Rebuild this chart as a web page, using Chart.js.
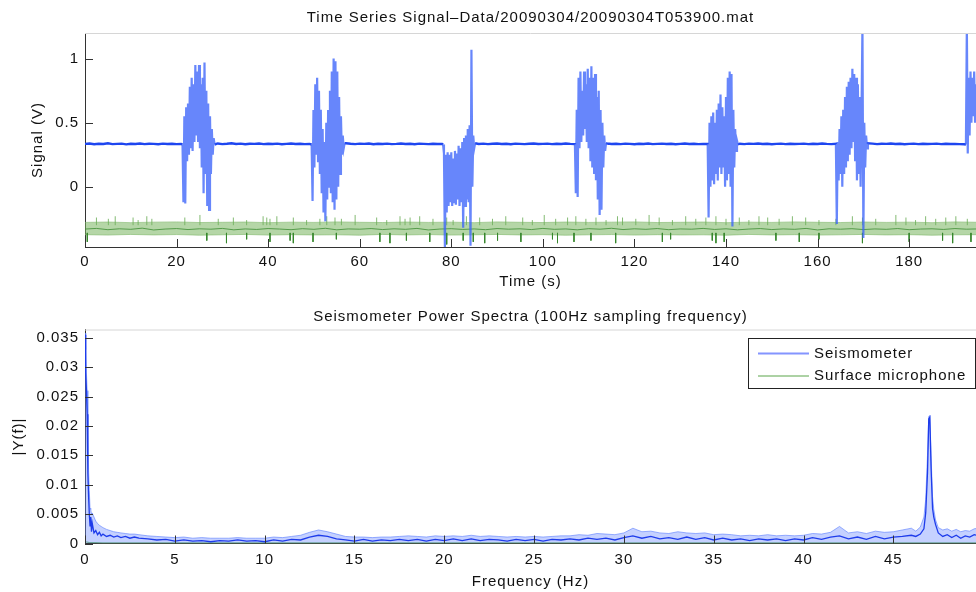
<!DOCTYPE html>
<html>
<head>
<meta charset="utf-8">
<script src="https://cdn.jsdelivr.net/npm/chart.js@4.4.1/dist/chart.umd.min.js"></script>
<style>
  body { margin: 0; background: #fff; }
  #wrap { position: relative; width: 976px; height: 592px; overflow: hidden; }
  canvas { position: absolute; left: 0; }
  #timeChart { top: 0; }
  #specChart { top: 295px; }
</style>
</head>
<body>
<div id="wrap">
  <canvas id="timeChart" width="976" height="295"></canvas>
  <canvas id="specChart" width="976" height="297"></canvas>
</div>
<script>
// ---------- top plot: time series ----------
const timeTicks = [0, 20, 40, 60, 80, 100, 120, 140, 160, 180];
const signalTicks = [0, 0.5, 1];

// seismometer quiet level, one value per second (null where a burst is drawn)
const baseSignal = [
  0.335,0.338,0.332,0.336,0.334,0.339,0.333,0.335,0.337,0.331,0.336,0.334,0.338,0.333,0.336,0.335,0.332,0.337,0.334,0.336,0.333,0.335,
  null,null,null,null,null,null,null,
  0.338,0.333,0.336,0.34,0.334,0.337,0.332,0.336,0.335,0.338,0.333,0.336,0.334,0.337,0.332,0.335,0.338,0.334,0.336,0.333,0.335,
  null,null,null,null,null,null,null,
  0.34,0.336,0.333,0.337,0.335,0.338,0.332,0.336,0.334,0.337,0.333,0.335,0.338,0.334,0.336,0.332,0.337,0.335,0.333,0.336,0.334,0.335,
  null,null,null,null,null,null,null,
  0.334,0.337,0.333,0.336,0.338,0.334,0.336,0.332,0.337,0.335,0.333,0.336,0.338,0.334,0.335,0.337,0.333,0.336,0.334,0.338,0.335,0.333,
  null,null,null,null,null,null,
  0.338,0.334,0.336,0.333,0.337,0.335,0.332,0.336,0.334,0.338,0.333,0.335,0.337,0.334,0.336,0.332,0.335,0.338,0.334,0.336,0.333,0.335,0.334,
  null,null,null,null,null,null,
  0.336,0.333,0.337,0.335,0.338,0.334,0.336,0.332,0.335,0.337,0.333,0.336,0.334,0.335,0.337,0.333,0.336,0.334,0.338,0.335,0.333,0.335,
  null,null,null,null,null,null,
  0.334,0.337,0.333,0.336,0.335,0.338,0.334,0.336,0.332,0.335,0.337,0.333,0.336,0.334,0.335,0.337,0.333,0.336,0.334,0.335,0.333,0.332,
  null,null,null
];

// footstep bursts, sampled every 0.2 s from their start time
const burstStep = 0.2;
const burstStart = [21.3, 49.5, 78.2, 107.0, 136.0, 164.0, 192.4];
const burst1 = [0.33,-0.12,0.55,-0.13,0.62,0.2,0.65,0.25,0.78,0.3,0.85,0.28,0.8,0.35,0.95,0.4,0.9,0.35,0.95,0.3,0.8,0.15,0.85,-0.05,0.97,0.1,0.75,-0.15,0.65,-0.18,0.55,0.1,0.45,0.25,0.38,0.33];
const burst2 = [0.33,-0.11,0.6,0.15,0.8,0.25,0.85,0.2,0.75,0.1,0.6,-0.05,0.45,-0.2,0.35,-0.27,0.5,-0.1,0.6,0.0,0.75,-0.05,0.9,-0.12,1.0,-0.18,0.98,-0.1,0.9,0.0,0.7,0.1,0.55,0.25,0.4,0.3,0.34];
const burst3 = [0.33,0.26,-0.47,0.25,-0.2,0.27,-0.15,0.25,-0.12,0.27,-0.15,0.22,-0.12,0.28,-0.14,0.26,-0.1,0.32,-0.15,0.3,-0.12,0.35,-0.32,0.38,-0.15,0.4,-0.1,0.45,-0.12,0.48,-0.46,1.07,0.0,0.4,0.3,0.34];
const burst4 = [0.33,-0.05,0.6,-0.08,0.85,0.3,0.9,0.35,0.75,0.4,0.9,0.45,0.8,0.35,0.92,0.3,0.85,0.2,0.94,0.15,0.85,0.1,0.88,0.05,0.7,-0.1,0.75,-0.22,0.6,-0.18,0.5,0.15,0.4,0.28,0.34];
const burst5 = [0.33,-0.24,0.5,0.0,0.55,0.05,0.58,0.02,0.5,0.1,0.6,0.05,0.65,0.15,0.72,0.1,0.62,0.15,0.55,0.0,0.7,0.05,0.85,0.1,0.9,0.0,0.88,-0.31,0.6,0.15,0.45,0.28,0.36,0.33];
const burst6 = [0.33,-0.29,0.35,0.05,0.45,0.1,0.55,0.0,0.6,0.1,0.7,0.15,0.78,0.2,0.82,0.25,0.85,0.3,0.92,0.35,0.88,0.2,0.85,0.05,0.8,0.1,0.7,0.0,0.6,1.25,-0.4,0.5,0.15,0.4,0.3,0.34];
const burst7 = [0.33,1.25,0.26,0.85,0.4,0.9,0.5,0.85,0.55,0.9,0.5,0.8,0.6,0.85];
const bursts = [burst1, burst2, burst3, burst4, burst5, burst6, burst7];

// surface microphone: noise band edges every 5 s, centre trace every 2.5 s
const micStep = 5;
const micTop = [-0.278,-0.275,-0.28,-0.276,-0.274,-0.279,-0.277,-0.275,-0.28,-0.276,-0.278,-0.274,-0.277,-0.279,-0.275,-0.278,-0.276,-0.28,-0.274,-0.277,-0.279,-0.275,-0.278,-0.276,-0.274,-0.279,-0.277,-0.275,-0.28,-0.276,-0.278,-0.274,-0.277,-0.279,-0.275,-0.278,-0.276,-0.28,-0.274,-0.277];
const micBottom = [-0.374,-0.377,-0.372,-0.376,-0.373,-0.378,-0.375,-0.372,-0.377,-0.374,-0.376,-0.375,-0.378,-0.372,-0.376,-0.373,-0.377,-0.375,-0.372,-0.376,-0.374,-0.378,-0.375,-0.373,-0.377,-0.374,-0.376,-0.375,-0.378,-0.372,-0.376,-0.374,-0.377,-0.375,-0.372,-0.376,-0.374,-0.378,-0.375,-0.374];
const micMidStep = 2.5;
const micMid = [-0.33,-0.325,-0.335,-0.328,-0.332,-0.323,-0.337,-0.33,-0.326,-0.334,-0.328,-0.331,-0.325,-0.336,-0.329,-0.333,-0.326,-0.33,-0.335,-0.327,-0.332,-0.324,-0.336,-0.329,-0.331,-0.326,-0.334,-0.328,-0.332,-0.325,-0.337,-0.33,-0.327,-0.333,-0.329,-0.335,-0.326,-0.331,-0.328,-0.334,-0.325,-0.332,-0.329,-0.336,-0.327,-0.331,-0.324,-0.334,-0.328,-0.332,-0.326,-0.335,-0.329,-0.331,-0.325,-0.333,-0.328,-0.336,-0.33,-0.326,-0.334,-0.329,-0.332,-0.325,-0.337,-0.328,-0.331,-0.327,-0.334,-0.329,-0.332,-0.326,-0.335,-0.33,-0.328,-0.333,-0.326,-0.331,-0.329];
// microphone spikes (time, tip value)
const micUpT = [2.5,5.1,6.6,10.5,11.6,13.5,14.6,21.8,25.1,29.1,32.4,35.3,38.9,39.7,40.4,41.9,45.5,48.4,51.3,52.8,54.6,56,59,63.7,65.9,68.8,69.9,71,73.1,76,79,80.4,83.3,86.2,89.0,91.9,95.6,97.7,100.3,102.8,105.4,107.2,109.4,111.6,113.8,116.3,117.4,120.3,123.2,125.4,128.3,131.2,133.4,135.6,137.8,140,142.9,145,147.2,149.1,151.6,154.5,157.4,160.3,164,167.6,169.8,172.7,177.1,179.3,181.4,183.6,185.8,188,190.2,192.7];
const micUpV = [-0.24,-0.25,-0.23,-0.24,-0.26,-0.23,-0.25,-0.24,-0.22,-0.25,-0.24,-0.26,-0.23,-0.24,-0.25,-0.23,-0.24,-0.26,-0.25,-0.23,-0.24,-0.25,-0.22,-0.24,-0.26,-0.23,-0.25,-0.24,-0.23,-0.25,-0.24,-0.26,-0.23,-0.24,-0.25,-0.23,-0.24,-0.26,-0.22,-0.25,-0.24,-0.23,-0.25,-0.24,-0.26,-0.23,-0.24,-0.25,-0.22,-0.24,-0.26,-0.23,-0.25,-0.24,-0.23,-0.25,-0.24,-0.26,-0.23,-0.24,-0.25,-0.23,-0.24,-0.26,-0.25,-0.23,-0.24,-0.25,-0.22,-0.24,-0.26,-0.23,-0.25,-0.24,-0.23,-0.25];
const micDownT = [0.5,26.6,30.9,35.3,40.4,44.8,45.5,49.8,54.9,64.4,66.6,70.2,75.3,79,82.6,84.8,87.3,90.1,95.2,102.1,103.2,106.8,110.5,115.9,126.1,127.9,137,137.8,139.6,150.9,156,160.3,169.8,180,187.3,189.5,193.5];
const micDownV = [-0.43,-0.42,-0.44,-0.41,-0.43,-0.42,-0.44,-0.43,-0.41,-0.43,-0.44,-0.42,-0.43,-0.45,-0.42,-0.43,-0.44,-0.42,-0.43,-0.41,-0.44,-0.43,-0.42,-0.44,-0.43,-0.41,-0.42,-0.44,-0.43,-0.42,-0.43,-0.41,-0.44,-0.43,-0.42,-0.44,-0.43];

// ---------- bottom plot: power spectra ----------
const freqTicks = [0, 5, 10, 15, 20, 25, 30, 35, 40, 45];
const ampTicks = [0, 0.005, 0.01, 0.015, 0.02, 0.025, 0.03, 0.035];
const specFreq = [0,0.04,0.08,0.12,0.16,0.2,0.24,0.28,0.32,0.36,0.4,0.5,0.6,0.7,0.8,0.9,1,1.2,1.4,1.6,1.8,2,2.25,2.5,2.75,3,
  3.5,4,4.5,5,5.5,6,6.5,7,7.5,8,8.5,9,9.5,10,10.5,11,11.5,12,12.5,13,13.5,14,14.5,15,15.5,16,16.5,17,17.5,18,18.5,19,19.5,20,
  20.5,21,21.5,22,22.5,23,23.5,24,24.5,25,25.5,26,26.5,27,27.5,28,28.5,29,29.5,30,30.5,31,31.5,32,32.5,33,33.5,34,34.5,35,
  35.5,36,36.5,37,37.5,38,38.5,39,39.5,40,40.5,41,41.5,42,42.5,43,43.5,44,44.5,45,45.5,46,
  46.25,46.5,46.7,46.8,46.9,46.97,47.03,47.1,47.18,47.25,47.35,47.5,47.75,48,48.25,48.5,48.75,49,49.25,49.5,49.75];
const specLevel = [0.0355,0.029,0.026,0.022,0.012,0.008,0.005,0.003,0.0045,0.002,0.0035,0.0018,0.0022,0.0015,0.0019,0.0013,0.0016,0.0012,0.0014,0.0011,0.0013,0.001,0.0012,0.0009,0.0011,0.0009,
  0.0008,0.0006,0.0007,0.0004,0.0006,0.0004,0.0005,0.0003,0.0005,0.0004,0.0006,0.0004,0.0005,0.0003,0.0006,0.0004,0.0007,0.0006,0.0011,0.0014,0.0012,0.0008,0.0006,0.0004,0.0007,0.0004,0.0006,0.0005,0.0007,0.0005,0.0007,0.0004,0.0007,0.0005,
  0.0008,0.0005,0.0008,0.0005,0.0007,0.0006,0.0004,0.0007,0.0005,0.0007,0.0004,0.0007,0.0006,0.0008,0.0006,0.0009,0.0007,0.0009,0.0006,0.001,0.0013,0.0009,0.0012,0.0008,0.001,0.0007,0.0011,0.0007,0.001,0.0006,
  0.0009,0.0006,0.0008,0.0005,0.0008,0.0006,0.0008,0.0005,0.0008,0.0006,0.001,0.0007,0.0011,0.0013,0.0008,0.0011,0.0007,0.0012,0.0008,0.0011,0.0012,0.0014,
  0.0012,0.0016,0.0025,0.0052,0.012,0.0212,0.0215,0.0128,0.006,0.0045,0.0032,0.0018,0.0012,0.0015,0.001,0.0014,0.0009,0.0013,0.0011,0.0015,0.0013];
const specPeak = [0.0358,0.033,0.029,0.026,0.02,0.0125,0.009,0.006,0.0058,0.005,0.0052,0.0045,0.0038,0.0034,0.0031,0.0029,0.0027,0.0024,0.0022,0.002,0.0019,0.0018,0.0017,0.0016,0.0016,0.0015,
  0.0013,0.0012,0.0011,0.001,0.0011,0.0009,0.001,0.0009,0.0009,0.0009,0.001,0.0009,0.0009,0.0009,0.0011,0.001,0.0012,0.0014,0.0019,0.0023,0.002,0.0016,0.0012,0.0011,0.0011,0.001,0.0011,0.0011,0.0012,0.0013,0.0012,0.0011,0.0013,0.0012,
  0.0013,0.0012,0.0014,0.0012,0.0013,0.0012,0.0011,0.0012,0.0011,0.0012,0.0011,0.0012,0.0013,0.0013,0.0015,0.0014,0.0017,0.0016,0.0015,0.0018,0.0026,0.002,0.0021,0.0018,0.0017,0.002,0.0018,0.0017,0.0018,0.0015,
  0.0016,0.0015,0.0013,0.0014,0.0013,0.0015,0.0013,0.0014,0.0013,0.0014,0.0017,0.0016,0.0019,0.0029,0.0018,0.002,0.0017,0.0021,0.0019,0.002,0.0023,0.0026,
  0.0021,0.0028,0.0045,0.0075,0.015,0.0216,0.0218,0.015,0.008,0.0058,0.004,0.0027,0.0023,0.0025,0.0021,0.0024,0.002,0.0022,0.0021,0.0025,0.0026];
const micSpecFreq = [0, 0.2, 1, 10, 30, 50];
const micSpecLevel = [0.0003, 0.0002, 0.0001, 0.0001, 0.0001, 0.0001];

// ---------- helpers ----------
const FONT = "'Liberation Sans', Arial, Helvetica, sans-serif";
Chart.defaults.font.family = FONT;
Chart.defaults.font.size = 15;
Chart.defaults.color = '#111';

function xy(xs, ys) { return xs.map((x, i) => ({x: x, y: ys[i]})); }
function stepped(step, ys) { return ys.map((y, i) => ({x: i * step, y: y})); }
function spikes(ts, vs, from) {
  const out = [];
  ts.forEach((t, i) => { out.push({x: t, y: from}, {x: t, y: vs[i]}, {x: t, y: null}); });
  return out;
}
const burstData = [];
// quiet trace joined to each burst's first and last sample
const baseData = stepped(1, baseSignal);
bursts.forEach((b, k) => {
  const end = burstStart[k] + (b.length - 1) * burstStep;
  b.forEach((v, i) => burstData.push({x: burstStart[k] + i * burstStep, y: v}));
  burstData.push({x: end + burstStep, y: null});
  baseData.push({x: burstStart[k], y: b[0]}, {x: end, y: b[b.length - 1]});
});
baseData.sort((p, q) => p.x - q.x);

// title, inward ticks, top frame line and optional legend
function decor(title, titleY, legend) {
  return {
    id: 'decor',
    beforeDraw(chart) { chart.ctx.letterSpacing = '1px'; },
    afterDatasetsDraw(chart) {
      const {ctx, chartArea: a, scales} = chart;
      ctx.save();
      ctx.lineWidth = 1;
      ctx.strokeStyle = '#d6d6d6';
      ctx.beginPath(); ctx.moveTo(a.left, a.top + 0.5); ctx.lineTo(a.right, a.top + 0.5); ctx.stroke();
      ctx.strokeStyle = '#333';
      ctx.beginPath();
      scales.x.ticks.forEach(t => {
        const px = Math.round(scales.x.getPixelForValue(t.value)) + 0.5;
        ctx.moveTo(px, a.bottom); ctx.lineTo(px, a.bottom - 8);
      });
      scales.y.ticks.forEach(t => {
        const py = Math.round(scales.y.getPixelForValue(t.value)) + 0.5;
        ctx.moveTo(a.left, py); ctx.lineTo(a.left + 8, py);
      });
      ctx.stroke();
      ctx.fillStyle = '#111';
      ctx.font = '15px ' + FONT;
      ctx.textAlign = 'center';
      ctx.textBaseline = 'middle';
      ctx.fillText(title, (a.left + a.right) / 2, titleY);
      if (legend) {
        ctx.fillStyle = '#fff';
        ctx.fillRect(748.5, 43.5, 227, 50);
        ctx.strokeStyle = '#222';
        ctx.strokeRect(748.5, 43.5, 227, 50);
        ctx.textAlign = 'left';
        legend.forEach((it, i) => {
          const y = 58.5 + i * 22.5;
          ctx.strokeStyle = it.color; ctx.lineWidth = it.width;
          ctx.beginPath(); ctx.moveTo(758, y); ctx.lineTo(809, y); ctx.stroke();
          ctx.fillStyle = '#111';
          ctx.fillText(it.label, 814, y);
        });
      }
      ctx.restore();
    }
  };
}

function scaleX(min, max, ticks, title, height, pad, titlePad) {
  return {
    type: 'linear', min: min, max: max,
    afterFit: s => { s.height = height; },
    afterBuildTicks: s => { s.ticks = ticks.map(v => ({value: v})); },
    grid: { display: false, drawTicks: false },
    border: { color: '#333', width: 1 },
    ticks: { padding: pad, maxRotation: 0, autoSkip: false, callback: v => String(v) },
    title: { display: true, text: title, padding: { top: 0, bottom: titlePad } }
  };
}
function scaleY(min, max, ticks, title, titlePad) {
  return {
    type: 'linear', min: min, max: max,
    afterFit: s => { s.width = 85; },
    afterBuildTicks: s => { s.ticks = ticks.map(v => ({value: v})); },
    grid: { display: false, drawTicks: false },
    border: { color: '#333', width: 1 },
    ticks: { padding: 6, autoSkip: false, callback: v => String(v) },
    title: { display: true, text: title, padding: { top: titlePad, bottom: 0 } }
  };
}

const common = {
  responsive: false,
  animation: false,
  events: [],
  plugins: { legend: { display: false }, tooltip: { enabled: false } },
  elements: { point: { radius: 0 }, line: { tension: 0 } }
};

// ---------- time series chart ----------
new Chart(document.getElementById('timeChart'), {
  type: 'line',
  data: {
    datasets: [
      { label: 'bursts', data: burstData, borderColor: 'rgba(60,100,250,0.78)', borderWidth: 2.2 },
      { label: 'seismometer', data: baseData, borderColor: 'rgb(30,70,240)', borderWidth: 2.4 },
      { label: 'mic up', data: spikes(micUpT, micUpV, -0.3), borderColor: 'rgba(110,175,90,0.85)', borderWidth: 1 },
      { label: 'mic down', data: spikes(micDownT, micDownV, -0.36), borderColor: 'rgb(55,135,45)', borderWidth: 1 },
      { label: 'mic', data: stepped(micMidStep, micMid), borderColor: 'rgba(60,140,50,0.8)', borderWidth: 1 },
      { label: 'mic top', data: stepped(micStep, micTop), borderColor: 'rgba(130,185,110,0.6)', borderWidth: 1,
        fill: '+1', backgroundColor: 'rgba(120,180,95,0.55)' },
      { label: 'mic bottom', data: stepped(micStep, micBottom), borderColor: 'rgba(130,185,110,0.6)', borderWidth: 1 }
    ]
  },
  options: Object.assign({}, common, {
    layout: { padding: { top: 33, left: 0, right: 0, bottom: 0 } },
    scales: {
      x: scaleX(0, 194.6, timeTicks, 'Time (s)', 48, 6, 4.5),
      y: scaleY(-0.47, 1.2, signalTicks, 'Signal (V)', 29)
    }
  }),
  plugins: [decor('Time Series Signal\u2013Data/20090304/20090304T053900.mat', 18, null)]
});

// ---------- spectrum chart ----------
new Chart(document.getElementById('specChart'), {
  type: 'line',
  data: {
    datasets: [
      { label: 'Seismometer', data: xy(specFreq, specLevel), borderColor: 'rgb(30,60,235)', borderWidth: 1.3 },
      { label: 'Seismometer envelope', data: xy(specFreq, specPeak), borderColor: 'rgba(90,125,255,0.6)', borderWidth: 1,
        fill: 'origin', backgroundColor: 'rgba(110,140,255,0.4)' },
      { label: 'Surface microphone', data: xy(micSpecFreq, micSpecLevel), borderColor: 'rgb(110,180,95)', borderWidth: 1.2 }
    ]
  },
  options: Object.assign({}, common, {
    layout: { padding: { top: 34.5, left: 0, right: 0, bottom: 0 } },
    scales: {
      x: scaleX(0, 49.6, freqTicks, 'Frequency (Hz)', 48.5, 7, 1.5),
      y: scaleY(0, 0.0364, ampTicks, '|Y(f)|', 10)
    }
  }),
  plugins: [decor('Seismometer Power Spectra (100Hz sampling frequency)', 21.5, [
    { label: 'Seismometer', color: 'rgba(110,130,255,0.85)', width: 2 },
    { label: 'Surface microphone', color: 'rgb(90,165,75)', width: 1 }
  ])]
});
</script>
</body>
</html>
